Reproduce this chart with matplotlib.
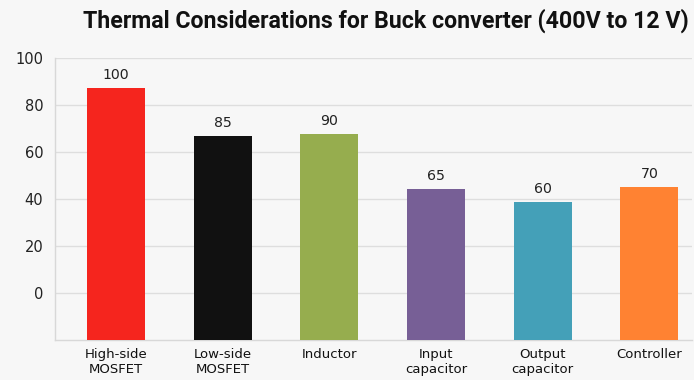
import matplotlib
matplotlib.use("Agg")
import matplotlib.pyplot as plt

categories = ["High-side\nMOSFET", "Low-side\nMOSFET", "Inductor", "Input\ncapacitor", "Output\ncapacitor", "Controller"]
value_labels = ["100", "85", "90", "65", "60", "70"]
# bar tops as drawn against the shown y axis
bar_tops = [87.2, 66.8, 67.6, 44.1, 38.6, 45.1]
bar_base = -20
colors = ["#f5251e", "#111111", "#96ad4e", "#775f96", "#44a0b8", "#ff8232"]
yticks = [0, 20, 40, 60, 80, 100]

bg = "#f7f7f7"
fig = plt.figure(figsize=(6.94, 3.80), dpi=100, facecolor=bg)
ax = fig.add_axes([55/694, 40/380, 637/694, 282/380], facecolor=bg)

x = list(range(len(categories)))
heights = [t - bar_base for t in bar_tops]
ax.bar(x, heights, bottom=bar_base, width=0.545, color=colors, zorder=3)
for xi, t, lab in zip(x, bar_tops, value_labels):
    ax.text(xi, t + 2.6, lab, ha="center", va="bottom", fontsize=10.2, color="#222222",
            family="DejaVu Sans", zorder=4)

ax.set_xlim(-0.572, 5.40)
ax.set_ylim(-20, 100)
ax.set_yticks(yticks)
ax.set_yticklabels([str(v) for v in yticks], fontsize=10.5, family="DejaVu Sans", color="#222222")
ax.set_xticks(x)
ax.set_xticklabels(categories, fontsize=9.5, family="DejaVu Sans", color="#111111", linespacing=1.15)
ax.tick_params(axis="both", length=0)
ax.tick_params(axis="y", pad=8.5)
ax.tick_params(axis="x", pad=6)
ax.grid(axis="y", color="#dedede", linewidth=1, zorder=0)
for s in ["top", "right"]:
    ax.spines[s].set_visible(False)
for s in ["left", "bottom"]:
    ax.spines[s].set_color("#d8d8d8")
    ax.spines[s].set_linewidth(1)

fig.text(386/694, 1 - 21/380, "Thermal Considerations for Buck converter (400V to 12 V)",
         ha="center", va="center", fontsize=16.7, fontweight="bold", family="Roboto", color="#111111")

fig.savefig("out.png", dpi=100, facecolor=bg)
